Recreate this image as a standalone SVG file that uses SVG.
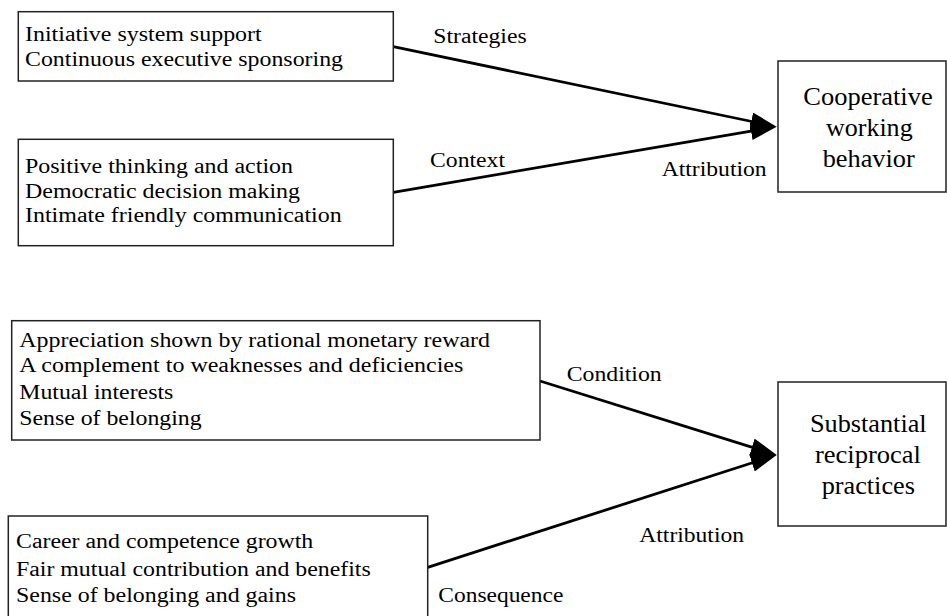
<svg xmlns="http://www.w3.org/2000/svg" width="947" height="616" viewBox="0 0 947 616">
<style>
.box{fill:#fff;stroke:#222;stroke-width:1.5}
.t{font-family:'Liberation Serif','Times New Roman',serif;font-size:20px;fill:#000}
.tb{font-family:'Liberation Serif','Times New Roman',serif;font-size:25px;fill:#000;text-anchor:middle}
.edge{fill:none;stroke:#000;stroke-width:2.8}
</style>
<defs>
<marker id="arr" markerUnits="userSpaceOnUse" viewBox="0 -9 26 18" markerWidth="26" markerHeight="18" refX="3" refY="0" orient="auto">
<path d="M0,-9 L26,0 L0,9 z" fill="#000"/>
</marker>
</defs>
<rect width="947" height="616" fill="#fff"/>
<g id="connectors">
<line class="edge" x1="393.3" y1="46.7" x2="754.2" y2="122.0" marker-end="url(#arr)"/>
<line class="edge" x1="393.3" y1="192.3" x2="754.0" y2="130.6" marker-end="url(#arr)"/>
<line class="edge" x1="540" y1="381" x2="754.8" y2="448.1" marker-end="url(#arr)"/>
<line class="edge" x1="427.7" y1="567.3" x2="754.8" y2="462.0" marker-end="url(#arr)"/>
<text class="t" x="433.3" y="42.7" textLength="93.3" lengthAdjust="spacingAndGlyphs">Strategies</text>
<text class="t" x="430" y="166.7" textLength="75" lengthAdjust="spacingAndGlyphs">Context</text>
<text class="t" x="661.7" y="175.7" textLength="105" lengthAdjust="spacingAndGlyphs">Attribution</text>
<text class="t" x="566.7" y="381" textLength="95" lengthAdjust="spacingAndGlyphs">Condition</text>
<text class="t" x="639.3" y="541.7" textLength="104.7" lengthAdjust="spacingAndGlyphs">Attribution</text>
<text class="t" x="438.3" y="601.7" textLength="125" lengthAdjust="spacingAndGlyphs">Consequence</text>
</g>
<g id="strategies-box">
<rect class="box" x="18.3" y="11.7" width="375" height="69.3"/>
<text class="t" x="25" y="40.7" textLength="236.7" lengthAdjust="spacingAndGlyphs">Initiative system support</text>
<text class="t" x="25" y="65.5" textLength="318" lengthAdjust="spacingAndGlyphs">Continuous executive sponsoring</text>
</g>
<g id="context-box">
<rect class="box" x="18.3" y="139.3" width="375" height="106.4"/>
<text class="t" x="25" y="173.3" textLength="268" lengthAdjust="spacingAndGlyphs">Positive thinking and action</text>
<text class="t" x="25" y="197.7" textLength="275" lengthAdjust="spacingAndGlyphs">Democratic decision making</text>
<text class="t" x="25" y="221.7" textLength="316.7" lengthAdjust="spacingAndGlyphs">Intimate friendly communication</text>
</g>
<g id="cooperative-box">
<rect class="box" x="778" y="61" width="168" height="131"/>
<text class="tb" x="868" y="105" textLength="129.3" lengthAdjust="spacingAndGlyphs">Cooperative</text>
<text class="tb" x="869.3" y="135.7" textLength="86.7" lengthAdjust="spacingAndGlyphs">working</text>
<text class="tb" x="868.7" y="166.7" textLength="92" lengthAdjust="spacingAndGlyphs">behavior</text>
</g>
<g id="condition-box">
<rect class="box" x="11.7" y="320.7" width="528.3" height="119.3"/>
<text class="t" x="19.3" y="346.7" textLength="470.7" lengthAdjust="spacingAndGlyphs">Appreciation shown by rational monetary reward</text>
<text class="t" x="19.3" y="371.5" textLength="444" lengthAdjust="spacingAndGlyphs">A complement to weaknesses and deficiencies</text>
<text class="t" x="19.3" y="399" textLength="154" lengthAdjust="spacingAndGlyphs">Mutual interests</text>
<text class="t" x="19.3" y="424.5" textLength="182.3" lengthAdjust="spacingAndGlyphs">Sense of belonging</text>
</g>
<g id="consequence-box">
<rect class="box" x="8.3" y="516" width="419.4" height="110"/>
<text class="t" x="16" y="548.3" textLength="297.3" lengthAdjust="spacingAndGlyphs">Career and competence growth</text>
<text class="t" x="16" y="575.5" textLength="354.7" lengthAdjust="spacingAndGlyphs">Fair mutual contribution and benefits</text>
<text class="t" x="16" y="602" textLength="280" lengthAdjust="spacingAndGlyphs">Sense of belonging and gains</text>
</g>
<g id="reciprocal-box">
<rect class="box" x="778" y="382" width="168" height="144"/>
<text class="tb" x="868.3" y="431.7" textLength="116.7" lengthAdjust="spacingAndGlyphs">Substantial</text>
<text class="tb" x="868" y="463.3" textLength="106" lengthAdjust="spacingAndGlyphs">reciprocal</text>
<text class="tb" x="868.3" y="494" textLength="93.3" lengthAdjust="spacingAndGlyphs">practices</text>
</g>
</svg>
